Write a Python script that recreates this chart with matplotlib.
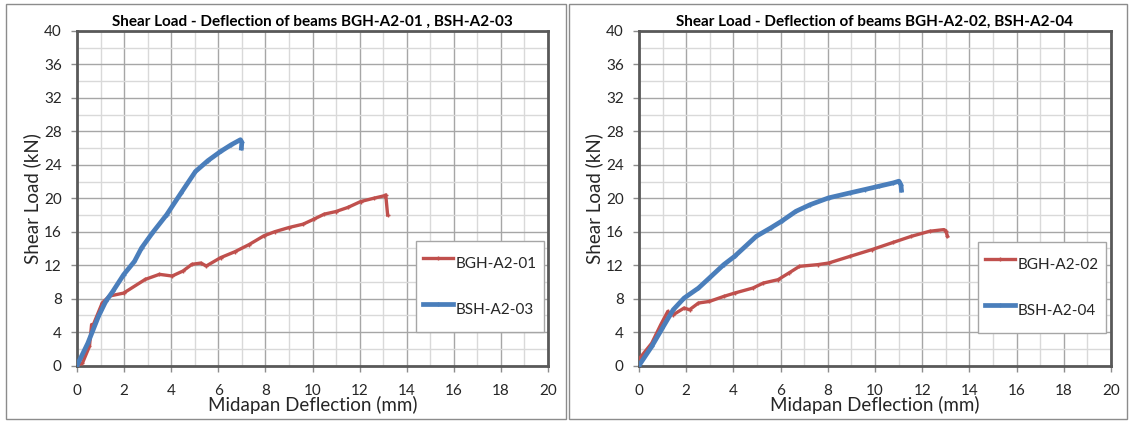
import matplotlib
matplotlib.use("Agg")
import matplotlib.pyplot as plt
from matplotlib.patches import Rectangle
from matplotlib.ticker import MultipleLocator

plt.rcParams['font.family'] = ['Lato', 'DejaVu Sans']

# ---------------- data ----------------
titles = ["Shear Load - Deflection of beams BGH-A2-01 , BSH-A2-03",
          "Shear Load - Deflection of beams BGH-A2-02, BSH-A2-04"]

bgh01_x = [0, 0.23, 0.53, 0.62, 0.69, 0.72, 1.07, 1.37, 1.98, 2.9, 3.5, 4.04, 4.5, 4.88, 5.26, 5.49, 6.1, 6.7, 7.3, 7.93, 8.4, 9.0, 9.6, 10.06, 10.5, 10.98, 11.5, 12.04, 12.6, 13.05, 13.11, 13.19]
bgh01_y = [0, 0.28, 2.3, 4.9, 4.6, 5.07, 7.47, 8.3, 8.66, 10.3, 10.9, 10.7, 11.3, 12.1, 12.25, 11.9, 12.9, 13.6, 14.45, 15.5, 16.0, 16.5, 16.9, 17.5, 18.1, 18.4, 18.9, 19.6, 20.0, 20.3, 20.4, 18.0]

bsh03_x = [0, 0.46, 0.91, 1.22, 1.52, 1.98, 2.44, 2.74, 3.2, 3.81, 4.42, 5.03, 5.56, 6.1, 6.55, 6.94, 7.0, 6.98]
bsh03_y = [0.0, 2.67, 5.87, 7.66, 8.86, 10.86, 12.45, 14.05, 15.85, 18.04, 20.64, 23.2, 24.5, 25.6, 26.4, 27.0, 26.7, 26.0]

bgh02_x = [-0.08, 0.54, 0.92, 1.22, 1.3, 1.45, 1.91, 2.14, 2.52, 2.98, 3.59, 4.05, 4.82, 5.27, 5.89, 6.35, 6.8, 7.57, 8.03, 8.94, 9.86, 10.78, 11.54, 12.31, 12.92, 13.0, 13.07]
bgh02_y = [0.48, 2.67, 4.87, 6.47, 6.07, 6.07, 6.87, 6.67, 7.47, 7.66, 8.26, 8.66, 9.26, 9.86, 10.26, 11.06, 11.86, 12.06, 12.25, 13.05, 13.85, 14.73, 15.45, 16.05, 16.25, 16.1, 15.45]

bsh04_x = [0, 0.54, 0.99, 1.45, 1.91, 2.52, 2.98, 3.59, 4.05, 4.97, 5.58, 6.04, 6.65, 7.26, 8.03, 8.94, 9.56, 10.17, 10.78, 11.01, 11.1, 11.12]
bsh04_y = [0, 2.28, 4.47, 6.67, 8.06, 9.26, 10.46, 12.06, 13.05, 15.45, 16.45, 17.25, 18.44, 19.24, 20.04, 20.64, 21.04, 21.44, 21.84, 22.04, 21.6, 20.96]

red_labels = ["BGH-A2-01", "BGH-A2-02"]
blue_labels = ["BSH-A2-03", "BSH-A2-04"]

x_ticks = list(range(0, 21, 2))
y_ticks = list(range(0, 41, 4))

RED = "#C0504D"
BLUE = "#4A7EBB"

W, H = 1131, 421
fig = plt.figure(figsize=(W / 100, H / 100), dpi=100)

# panel frames (pixel coords -> figure fractions)
for (x0, x1) in [(6, 566), (569, 1127)]:
    fig.patches.append(Rectangle((x0 / W, 1 - 419 / H), (x1 - x0) / W, (419 - 4) / H,
                                 transform=fig.transFigure, fill=False,
                                 edgecolor="#8c8c8c", linewidth=1.0))

axes_px = [(77, 548), (639, 1111)]
series = [((bgh01_x, bgh01_y), (bsh03_x, bsh03_y)), ((bgh02_x, bgh02_y), (bsh04_x, bsh04_y))]
leg_px = [(416, 241), (978, 242)]

for i, ax_px in enumerate(axes_px):
    left = ax_px[0] / W
    width = (ax_px[1] - ax_px[0]) / W
    bottom = 1 - 365.5 / H
    height = (365.5 - 31) / H
    ax = fig.add_axes([left, bottom, width, height])
    (rx, ry), (bx, by) = series[i]
    ax.plot(rx, ry, color=RED, lw=2.4, marker='+', ms=3.5, mew=1.0, label=red_labels[i], zorder=3)
    ax.plot(bx, by, color=BLUE, lw=3.4, marker='+', ms=3.5, mew=1.0, label=blue_labels[i], zorder=4)
    ax.set_xlim(0, 20)
    ax.set_ylim(0, 40)
    ax.set_xticks(x_ticks)
    ax.set_yticks(y_ticks)
    ax.xaxis.set_minor_locator(MultipleLocator(1))
    ax.yaxis.set_minor_locator(MultipleLocator(2))
    ax.grid(which='major', color="#a6a6a6", lw=1.0)
    ax.grid(which='minor', color="#d9d9d9", lw=1.0)
    ax.set_axisbelow(True)
    ax.tick_params(which='major', direction='out', length=4, width=1, color="#8c8c8c",
                   labelsize=11, labelcolor="#262626")
    ax.tick_params(axis='x', which='major', pad=9)
    ax.tick_params(axis='y', which='major', pad=7)
    ax.tick_params(which='minor', length=0)
    for s in ax.spines.values():
        s.set_color("#595959")
        s.set_linewidth(2.0)
    ax.set_xlabel("Midapan Deflection (mm)", fontsize=13.5, color="#262626", labelpad=-1)
    ax.set_ylabel("Shear Load (kN)", fontsize=13.5, color="#262626", labelpad=2)
    ax.set_title(titles[i], fontsize=11, fontweight='bold', pad=4)
    lx, ly = leg_px[i]
    x_ax = (lx - ax_px[0]) / (ax_px[1] - ax_px[0])
    y_ax = (365.5 - ly) / (365.5 - 31)
    leg = ax.legend(loc='upper left', bbox_to_anchor=(x_ax, y_ax), borderaxespad=0,
                    fontsize=11, frameon=True, fancybox=False, framealpha=1,
                    edgecolor="#a6a6a6", labelspacing=0.98, borderpad=0.49,
                    handlelength=1.9, handleheight=2.68, handletextpad=0.2)
    leg.get_frame().set_linewidth(1.0)
    for t in leg.get_texts():
        t.set_color("#262626")

fig.savefig("out.png", dpi=100)
